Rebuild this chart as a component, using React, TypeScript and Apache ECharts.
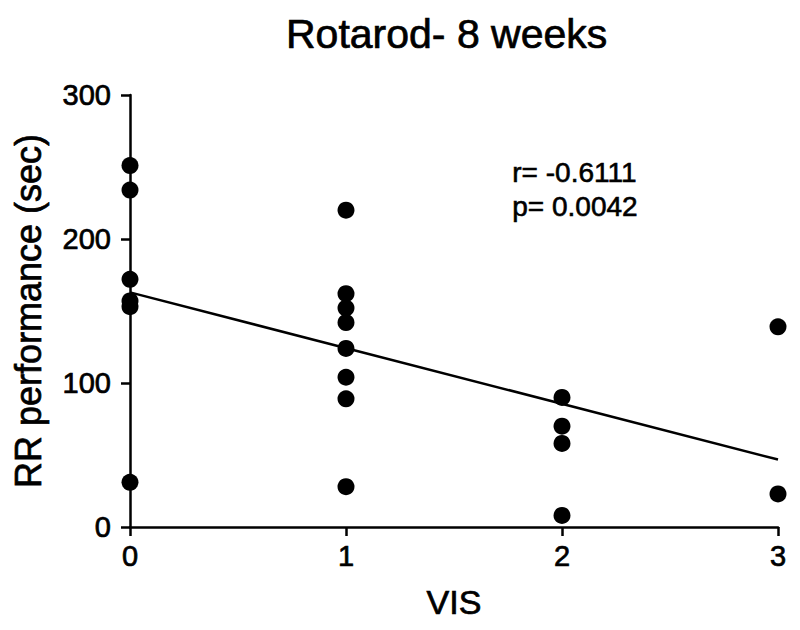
import React, { useEffect, useRef } from "react";
import * as echarts from "echarts";

const titleText = "Rotarod- 8 weeks";
const xName = "VIS";
const yName = "RR performance (sec)";
const statLines = ["r= -0.6111", "p= 0.0042"];

const visScores = [0, 0, 0, 0, 0, 0, 1, 1, 1, 1, 1, 1, 1, 1, 2, 2, 2, 2, 3, 3];
const rrSeconds = [251, 234, 172, 157, 153, 31, 220, 162, 152, 142, 124, 104, 89, 28, 90, 70, 58, 8, 139, 23];

const xTicks = [0, 1, 2, 3];
const yTicks = [0, 100, 200, 300];

function regression(xs: number[], ys: number[]) {
  const n = xs.length;
  const mx = xs.reduce((a, b) => a + b, 0) / n;
  const my = ys.reduce((a, b) => a + b, 0) / n;
  let sxy = 0;
  let sxx = 0;
  for (let i = 0; i < n; i++) {
    sxy += (xs[i] - mx) * (ys[i] - my);
    sxx += (xs[i] - mx) * (xs[i] - mx);
  }
  const slope = sxy / sxx;
  return { slope, intercept: my - slope * mx };
}

const FONT = "'Liberation Sans', Arial, sans-serif";
const heavy = { textBorderColor: "#000", textBorderWidth: 0.7 };

export default function App() {
  const ref = useRef<HTMLDivElement>(null);

  useEffect(() => {
    if (!ref.current) return;
    const chart = echarts.init(ref.current, undefined, { renderer: "svg" });
    const { slope, intercept } = regression(visScores, rrSeconds);
    const x0 = xTicks[0];
    const x1 = xTicks[xTicks.length - 1];
    const fitLine = [
      [x0, intercept + slope * x0],
      [x1, intercept + slope * x1],
    ];
    chart.setOption({
      animation: false,
      backgroundColor: "#ffffff",
      title: {
        text: titleText,
        left: 281,
        top: 8,
        textStyle: { fontFamily: FONT, fontSize: 41, fontWeight: "normal", color: "#000", ...heavy },
      },
      grid: { left: 130, right: 22, top: 95, bottom: 103, containLabel: false },
      xAxis: {
        type: "value",
        min: xTicks[0],
        max: xTicks[xTicks.length - 1],
        interval: 1,
        name: xName,
        nameLocation: "middle",
        nameGap: 58,
        nameTextStyle: { fontFamily: FONT, fontSize: 34, color: "#000", ...heavy },
        axisLine: { show: true, lineStyle: { color: "#000", width: 2.5 } },
        axisTick: { show: true, length: 9, lineStyle: { color: "#000", width: 2.5 } },
        axisLabel: { fontFamily: FONT, fontSize: 29, color: "#000", margin: 14, ...heavy },
        splitLine: { show: false },
      },
      yAxis: {
        type: "value",
        min: yTicks[0],
        max: yTicks[yTicks.length - 1],
        interval: 100,
        name: yName,
        nameLocation: "middle",
        nameGap: 84,
        nameTextStyle: { fontFamily: FONT, fontSize: 36, color: "#000", ...heavy },
        axisLine: { show: true, lineStyle: { color: "#000", width: 2.5 } },
        axisTick: { show: true, length: 9, lineStyle: { color: "#000", width: 2.5 } },
        axisLabel: { fontFamily: FONT, fontSize: 29, color: "#000", margin: 19, ...heavy },
        splitLine: { show: false },
      },
      graphic: [
        {
          type: "text",
          left: 512,
          top: 155,
          style: {
            text: statLines.join("\n"),
            font: `28px ${FONT}`,
            fill: "#000",
            stroke: "#000",
            lineWidth: 0.6,
            lineHeight: 34,
          },
        },
      ],
      series: [
        {
          type: "line",
          data: fitLine,
          symbol: "none",
          lineStyle: { color: "#000", width: 2.5 },
          z: 2,
        },
        {
          type: "scatter",
          data: visScores.map((x, i) => [x, rrSeconds[i]]),
          symbol: "circle",
          symbolSize: 17,
          itemStyle: { color: "#000", opacity: 1 },
          z: 3,
        },
      ],
    });
    return () => chart.dispose();
  }, []);

  return (
    <div
      ref={ref}
      style={{ position: "fixed", left: 0, top: 0, width: 800, height: 630, background: "#fff" }}
    />
  );
}
